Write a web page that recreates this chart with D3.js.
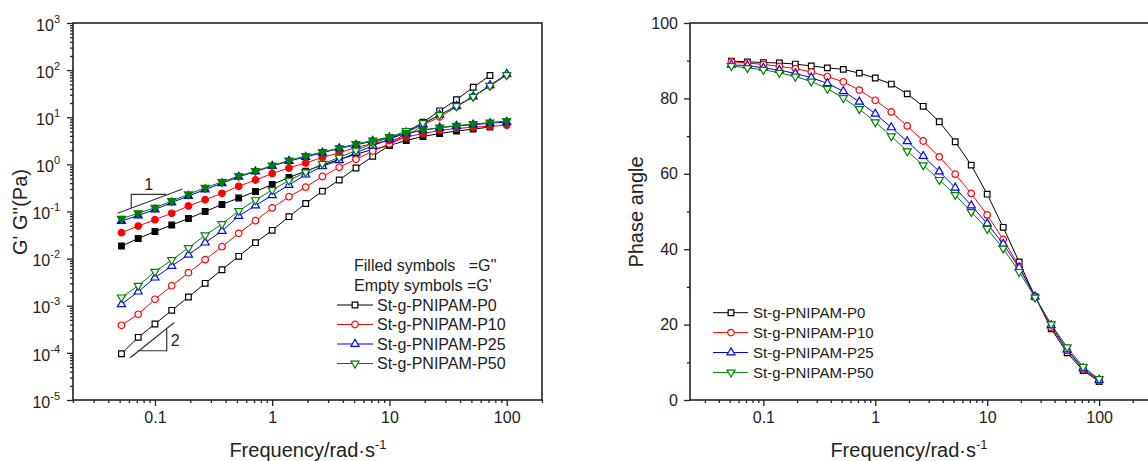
<!DOCTYPE html>
<html>
<head>
<meta charset="utf-8">
<script src="https://cdn.jsdelivr.net/npm/d3@7"></script>
<style>
  body { margin: 0; background: #fff; }
  text { font-family: "Liberation Sans", Arial, sans-serif; fill: #222; }
</style>
</head>
<body>
<svg id="chart" width="1148" height="461"></svg>
<script>
// angular frequency (rad/s), log sweep, 7 points per decade
const freq = [0.0518, 0.072, 0.1, 0.139, 0.193, 0.268, 0.373, 0.518, 0.72, 1, 1.39, 1.93,
              2.68, 3.73, 5.18, 7.2, 10, 13.9, 19.3, 26.8, 37.3, 51.8, 72, 100];

const seriesNames = ['St-g-PNIPAM-P0', 'St-g-PNIPAM-P10', 'St-g-PNIPAM-P25', 'St-g-PNIPAM-P50'];

// storage modulus G' (Pa) - empty symbols
const storageP0  = [9.6e-5, 2.14e-4, 4.1e-4, 8.0e-4, 1.53e-3, 2.99e-3, 5.82e-3, 0.0112, 0.0218, 0.0399, 0.0776, 0.148,
                    0.270, 0.466, 0.838, 1.48, 2.54, 4.75, 7.85, 13.7, 23.5, 43.2, 76.9, null];
const storageP10 = [3.85e-4, 6.59e-4, 1.37e-3, 2.66e-3, 5.02e-3, 9.5e-3, 0.0179, 0.0344, 0.0638, 0.119, 0.206, 0.328,
                    0.553, 0.867, 1.28, 1.92, 2.71, 3.87, 6.85, 10.1, 16.7, 27.3, 46, 78.8];
const storageP25 = [1.07e-3, 1.99e-3, 3.94e-3, 6.98e-3, 0.0121, 0.0218, 0.0386, 0.0803, 0.134, 0.221, 0.365, 0.604,
                    0.91, 1.22, 1.77, 2.49, 3.40, 4.70, 7.19, 11.2, 17.3, 27.6, 47.6, 82.7];
const storageP50 = [1.51e-3, 2.66e-3, 5.28e-3, 9.35e-3, 0.0168, 0.0313, 0.0543, 0.103, 0.175, 0.286, 0.455, 0.682,
                    1.03, 1.40, 1.97, 2.80, 3.76, 5.1, 7.55, 11.2, 17.3, 27.3, 46.7, 78.8];

// loss modulus G'' (Pa) - filled symbols
const lossP0  = [0.0185, 0.0267, 0.0377, 0.0517, 0.071, 0.1, 0.141, 0.193, 0.266, 0.374, 0.527, 0.72,
                 0.97, 1.27, 1.64, 2.07, 2.52, 3.21, 3.91, 4.52, 5.1, 5.6, 6.2, null];
const lossP10 = [0.0355, 0.0492, 0.067, 0.0916, 0.131, 0.178, 0.243, 0.343, 0.466, 0.64, 0.838, 1.07,
                 1.40, 1.77, 2.28, 2.77, 3.21, 3.81, 4.52, 5.24, 5.77, 6.15, 6.46, 6.75];
const lossP25 = [0.0629, 0.0822, 0.110, 0.155, 0.213, 0.293, 0.396, 0.547, 0.70, 0.923, 1.18, 1.43,
                 1.76, 2.19, 2.58, 3.13, 3.68, 4.52, 5.28, 6.0, 6.52, 6.95, 7.44, 7.93];
const lossP50 = [0.0703, 0.0916, 0.120, 0.167, 0.232, 0.32, 0.423, 0.566, 0.723, 0.946, 1.21, 1.51,
                 1.83, 2.22, 2.71, 3.21, 3.81, 4.63, 5.36, 6.06, 6.62, 7.19, 7.74, 8.32];

// phase angle (degrees)
const phaseP0  = [89.9, 89.7, 89.5, 89.4, 89.1, 88.6, 88.1, 87.7, 86.7, 85.4, 83.8, 81.2,
                  77.9, 73.8, 68.5, 62.3, 54.6, 45.8, 36.6, 27.4, 18.9, 12.5, 7.8, 4.9];
const phaseP10 = [89.7, 89.4, 89.0, 88.5, 87.9, 87.0, 85.8, 84.4, 82.2, 79.5, 76.4, 72.7,
                  68.7, 64.5, 59.9, 54.8, 49.1, 42.6, 35.4, 27.4, 19.3, 13.1, 8.1, 5.1];
const phaseP25 = [88.9, 88.7, 88.1, 87.5, 86.6, 85.5, 84.0, 81.9, 79.1, 75.9, 72.3, 68.6,
                  64.7, 60.6, 56.3, 51.6, 46.8, 41.4, 35.1, 27.4, 19.8, 13.4, 8.4, 5.3];
const phaseP50 = [88.6, 88.1, 87.6, 86.8, 85.8, 84.5, 82.6, 80.1, 77.2, 73.7, 70.0, 66.0,
                  62.3, 58.4, 54.4, 49.9, 45.4, 40.2, 34.0, 27.2, 20.1, 14.0, 8.8, 5.6];

const freqTicks = [0.1, 1, 10, 100];
const modulusTicks = [1e-5, 1e-4, 1e-3, 1e-2, 1e-1, 1, 10, 100, 1000];
const phaseTicks = [0, 20, 40, 60, 80, 100];

const storage = [storageP0, storageP10, storageP25, storageP50];
const loss = [lossP0, lossP10, lossP25, lossP50];
const phase = [phaseP0, phaseP10, phaseP25, phaseP50];

const colors = ['#000000', '#ff0000', '#0000ff', '#008000'];
const shapes = [d3.symbolSquare, d3.symbolCircle, d3.symbolTriangle, d3.symbolTriangle];
const sizes = [32, 34, 28, 28];

const svg = d3.select('#chart');

// minor ticks 2..9 x 10^e that fall inside a log domain
function logMinors(domain) {
    const out = [];
    for (let e = -6; e <= 3; e++)
        for (let k = 2; k <= 9; k++) {
            const v = k * Math.pow(10, e);
            if (v >= domain[0] * 0.999 && v <= domain[1] * 1.001) out.push(v);
        }
    return out;
}

function symbolPath(i) {
    return d3.symbol().type(shapes[i]).size(sizes[i])();
}

function marker(sel, i, filled) {
    sel.attr('d', symbolPath(i))
        .attr('fill', filled ? colors[i] : '#fff')
        .attr('stroke', colors[i])
        .attr('stroke-width', 1.2);
}

function drawSeries(g, x, y, values, i, filled) {
    const pts = freq.map((f, k) => [f, values[k]]).filter(d => d[1] != null);
    g.append('path')
        .datum(pts)
        .attr('fill', 'none')
        .attr('stroke', colors[i])
        .attr('stroke-width', 1)
        .attr('d', d3.line().x(d => x(d[0])).y(d => y(d[1])));
    g.selectAll(null)
        .data(pts)
        .join('path')
        .attr('transform', d => `translate(${x(d[0])},${y(d[1])})` + (i === 3 ? ' rotate(180)' : ''))
        .call(marker, i, filled);
}

function xAxes(g, x, y0) {
    g.append('g')
        .attr('transform', `translate(0,${y0})`)
        .call(d3.axisBottom(x).tickValues(freqTicks).tickFormat(d3.format('~g')).tickSize(6).tickSizeOuter(0).tickPadding(6))
        .call(a => a.select('.domain').remove())
        .call(a => a.selectAll('text').attr('font-size', 16).attr('fill', '#222'));
    g.append('g')
        .attr('transform', `translate(0,${y0})`)
        .call(d3.axisBottom(x).tickValues(logMinors(x.domain())).tickFormat('').tickSize(3).tickSizeOuter(0))
        .call(a => a.select('.domain').remove());
    g.selectAll('.tick line').attr('stroke', '#222').attr('stroke-width', 1.3);
}

function frame(g, x0, y0, x1, y1) {
    g.append('rect')
        .attr('x', x0).attr('y', y0)
        .attr('width', x1 - x0).attr('height', y1 - y0)
        .attr('fill', 'none')
        .attr('stroke', '#222')
        .attr('stroke-width', 1.6);
}

function freqTitle(g, cx) {
    const t = g.append('text')
        .attr('x', cx).attr('y', 457)
        .attr('text-anchor', 'middle')
        .attr('font-size', 20);
    t.append('tspan').text('Frequency/rad\u00b7s');
    t.append('tspan').attr('dy', -8).attr('font-size', 13).text('-1');
}

// ---------------- Left: G' and G'' ----------------
const L = {left: 73, right: 542, top: 23, bottom: 400};
const xL = d3.scaleLog().domain([0.02, 200]).range([L.left, L.right]);
const yL = d3.scaleLog().domain([1e-5, 1e3]).range([L.bottom, L.top]);
const gL = svg.append('g');

xAxes(gL, xL, L.bottom);

const yAxisL = gL.append('g')
    .attr('transform', `translate(${L.left},0)`)
    .call(d3.axisLeft(yL).tickValues(modulusTicks).tickSize(6).tickSizeOuter(0).tickPadding(7))
    .call(a => a.select('.domain').remove());
yAxisL.selectAll('.tick text')
    .attr('font-size', 16)
    .attr('dy', '0.45em')
    .each(function (d) {
        const t = d3.select(this);
        t.text(null);
        t.append('tspan').text('10');
        t.append('tspan').attr('dy', -8).attr('font-size', 11).text(Math.round(Math.log10(d)));
    });
gL.append('g')
    .attr('transform', `translate(${L.left},0)`)
    .call(d3.axisLeft(yL).tickValues(logMinors(yL.domain())).tickFormat('').tickSize(3).tickSizeOuter(0))
    .call(a => a.select('.domain').remove());
gL.selectAll('.tick line').attr('stroke', '#222').attr('stroke-width', 1.3);

frame(gL, L.left, L.top, L.right, L.bottom);

// slope guides (data coordinates)
const guide = gL.append('g').attr('stroke', '#333').attr('stroke-width', 1.2).attr('fill', 'none');
const line = d3.line().x(d => xL(d[0])).y(d => yL(d[1]));
guide.append('path').attr('d', line([[0.048, 0.0916], [0.172, 0.30]]));
guide.append('path').attr('d', line([[0.0628, 0.119], [0.0628, 0.23], [0.125, 0.23]]));
guide.append('path').attr('d', line([[0.0615, 7.9e-5], [0.146, 4.4e-4]]));
guide.append('path').attr('d', line([[0.0711, 1.11e-4], [0.126, 1.11e-4], [0.126, 3.16e-4]]));
gL.append('text').attr('x', xL(0.0885)).attr('y', yL(0.23) - 4)
    .attr('text-anchor', 'middle').attr('font-size', 16).text('1');
gL.append('text').attr('x', xL(0.126) + 4).attr('y', yL(1.9e-4) + 6)
    .attr('font-size', 16).text('2');

const plotL = gL.append('g');
seriesNames.forEach((s, i) => {
    drawSeries(plotL, xL, yL, storage[i], i, false);
    drawSeries(plotL, xL, yL, loss[i], i, true);
});

gL.append('text')
    .attr('transform', `translate(27,212) rotate(-90)`)
    .attr('text-anchor', 'middle')
    .attr('font-size', 20)
    .text("G' G''(Pa)");
freqTitle(gL, 308);

// legend
const legL = gL.append('g').attr('font-size', 16);
legL.append('text').attr('x', 354).attr('y', 271).attr('font-size', 16)
    .style('white-space', 'pre').text("Filled symbols   =G''");
legL.append('text').attr('x', 354).attr('y', 291).attr('font-size', 16).text("Empty symbols =G'");
seriesNames.forEach((s, i) => {
    const yy = 305 + i * 19.5;
    legL.append('line').attr('x1', 337).attr('x2', 373).attr('y1', yy).attr('y2', yy)
        .attr('stroke', colors[i]).attr('stroke-width', 1);
    legL.append('path').attr('transform', `translate(355,${yy})` + (i === 3 ? ' rotate(180)' : ''))
        .call(marker, i, false);
    legL.append('text').attr('x', 377).attr('y', yy).attr('dy', '0.35em').attr('font-size', 16).text(s);
});

// ---------------- Right: phase angle ----------------
const R = {left: 690, right: 1160, top: 23, bottom: 400};
const xR = d3.scaleLog().domain([0.0221, 350]).range([R.left, R.right]);
const yR = d3.scaleLinear().domain([0, 100]).range([R.bottom, R.top]);
const gR = svg.append('g');

xAxes(gR, xR, R.bottom);

gR.append('g')
    .attr('transform', `translate(${R.left},0)`)
    .call(d3.axisLeft(yR).tickValues(phaseTicks).tickSize(6).tickSizeOuter(0).tickPadding(6))
    .call(a => a.select('.domain').remove())
    .call(a => a.selectAll('text').attr('font-size', 16).attr('fill', '#222'));
gR.append('g')
    .attr('transform', `translate(${R.left},0)`)
    .call(d3.axisLeft(yR).tickValues([10, 30, 50, 70, 90]).tickFormat('').tickSize(3).tickSizeOuter(0))
    .call(a => a.select('.domain').remove());
gR.selectAll('.tick line').attr('stroke', '#222').attr('stroke-width', 1.3);

frame(gR, R.left, R.top, R.right, R.bottom);

const plotR = gR.append('g');
seriesNames.forEach((s, i) => drawSeries(plotR, xR, yR, phase[i], i, false));

gR.append('text')
    .attr('transform', `translate(643,212) rotate(-90)`)
    .attr('text-anchor', 'middle')
    .attr('font-size', 20)
    .text('Phase angle');
freqTitle(gR, 909);

const legR = gR.append('g');
seriesNames.forEach((s, i) => {
    const yy = 312.7 + i * 19.9;
    legR.append('line').attr('x1', 713).attr('x2', 748).attr('y1', yy).attr('y2', yy)
        .attr('stroke', colors[i]).attr('stroke-width', 1);
    legR.append('path').attr('transform', `translate(731,${yy})` + (i === 3 ? ' rotate(180)' : ''))
        .call(marker, i, false);
    legR.append('text').attr('x', 753).attr('y', yy).attr('dy', '0.35em').attr('font-size', 15).text(s);
});
</script>
</body>
</html>
